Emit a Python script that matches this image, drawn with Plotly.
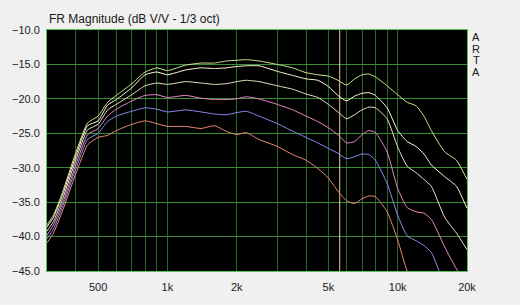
import plotly.graph_objects as go

# ---------------- data ----------------
freq = [300, 320, 350, 400, 450, 500, 550, 600, 700, 800, 900, 1000, 1200, 1400, 1600,
        1800, 2000, 2200, 2500, 3000, 3500, 4000, 4500, 5000, 5500, 6000, 6500, 7000,
        7500, 8000, 9000, 10000, 11000, 12000, 13000, 14000, 16000, 18000, 20000]

curve_green = [-38.3, -36.9, -33.6, -27.8, -23.5, -22.5, -20.5, -19.5, -17.8, -16.1, -15.5, -15.9,
               -15.1, -14.8, -14.8, -14.5, -14.4, -14.3, -14.5, -15.0, -15.5, -16.2, -16.5, -16.7,
               -17.3, -18.0, -17.1, -16.5, -16.4, -16.8, -18.1, -19.4, -20.5, -21.0, -22.5, -24.6,
               -27.7, -28.9, -31.7]
curve_white = [-38.6, -37.2, -34.0, -28.3, -23.9, -23.2, -20.9, -20.1, -18.4, -16.5, -16.1, -16.5,
               -15.8, -15.5, -15.6, -15.5, -15.3, -15.2, -15.2, -16.0, -16.6, -17.1, -17.3, -18.2,
               -19.5, -20.3, -19.6, -19.2, -19.1, -19.5, -21.3, -24.6, -26.2, -26.9, -28.0, -29.6,
               -31.3, -32.7, -35.9]
curve_beige = [-39.2, -37.8, -34.6, -28.9, -24.5, -23.7, -21.6, -20.8, -19.4, -18.1, -17.7, -17.9,
               -17.5, -17.7, -17.9, -17.8, -17.5, -17.3, -17.5, -18.1, -18.6, -19.3, -19.8, -20.8,
               -21.9, -22.9, -22.3, -21.6, -21.2, -21.3, -22.9, -27.0, -29.8, -30.7, -31.7, -32.7,
               -37.2, -39.5, -41.9]
curve_pink = [-39.8, -38.3, -35.2, -29.6, -25.2, -24.3, -22.5, -21.5, -20.3, -19.5, -19.4, -19.8,
              -19.5, -19.9, -20.1, -20.1, -20.0, -19.7, -20.0, -20.8, -21.6, -22.5, -23.3, -24.2,
              -25.2, -26.4, -26.2, -25.2, -24.6, -24.9, -27.7, -33.0, -35.8, -36.4, -36.6, -37.5,
              -41.5, -44.7, -46.9]
curve_blue = [-40.3, -38.9, -35.7, -30.2, -25.9, -25.0, -23.3, -22.5, -21.8, -21.3, -21.5, -21.9,
              -21.6, -21.9, -22.2, -22.3, -22.0, -21.8, -22.5, -23.6, -24.7, -25.6, -26.4, -27.2,
              -27.9, -28.7, -28.4, -28.0, -28.1, -28.9, -32.3, -36.9, -39.9, -40.6, -41.3, -42.3,
              -46.8, -48.3, -49.7]
curve_salmon = [-40.9, -39.5, -36.3, -30.9, -26.7, -25.6, -25.3, -24.6, -23.7, -23.2, -23.6, -24.0,
                -24.0, -24.3, -23.9, -24.7, -25.2, -24.9, -25.9, -26.9, -28.1, -28.9, -30.1, -31.5,
                -33.4, -34.8, -35.2, -34.5, -34.1, -34.2, -36.4, -40.5, -45.0, -46.9, -48.3, -49.7,
                -51.1, -52.5, -53.9]

marker_freq = 5600

x_grid_vals = [400, 500, 600, 700, 800, 900, 1000, 2000, 3000, 4000, 5000, 6000, 7000,
               8000, 9000, 10000, 20000]
x_grid_text = ["", "500", "", "", "", "", "1k", "2k", "", "", "5k", "", "", "", "", "10k", "20k"]
y_ticks = [-45, -40, -35, -30, -25, -20, -15, -10]

title_text = "FR Magnitude (dB V/V - 1/3 oct)"
side_letters = ["A", "R", "T", "A"]

# ---------------- figure ----------------
series = [
    (curve_salmon, "#f08a78"),
    (curve_blue, "#8a8cf4"),
    (curve_pink, "#f088c8"),
    (curve_beige, "#ece4c4"),
    (curve_white, "#ffffd8"),
    (curve_green, "#d4e490"),
]

fig = go.Figure()

fig.add_trace(go.Scatter(x=[marker_freq, marker_freq], y=[y_ticks[0], y_ticks[-1]],
                         mode="lines", line=dict(color="#d8d090", width=1),
                         hoverinfo="skip", showlegend=False))

for vals, col in series:
    fig.add_trace(go.Scatter(x=freq, y=vals, mode="lines",
                             line=dict(color=col, width=1, shape="spline", smoothing=0.5),
                             showlegend=False))

W, H = 520, 305
L, R, T, B = 41, 53, 30, 28
plot_h = H - T - B

fig.update_layout(
    width=W, height=H,
    margin=dict(l=L, r=R, t=T, b=B, pad=0),
    paper_bgcolor="#f0f0f0",
    plot_bgcolor="#000000",
    font=dict(family="Liberation Sans, Arial, sans-serif", size=11, color="#222222"),
    showlegend=False,
    xaxis=dict(
        type="log",
        range=[2.4771, 4.3010],
        tickmode="array", tickvals=x_grid_vals, ticktext=x_grid_text,
        showgrid=True, gridcolor="#2a682a", gridwidth=1,
        showline=True, linecolor="#5cc05c", linewidth=1, mirror=True,
        ticks="", zeroline=False, ticklabelstandoff=6,
        tickfont=dict(size=11, color="#222222"),
    ),
    yaxis=dict(
        range=[-45, -10],
        tickmode="array", tickvals=y_ticks,
        tickformat=".1f",
        showgrid=True, gridcolor="#3a8a3a", gridwidth=1,
        showline=True, linecolor="#5cc05c", linewidth=1, mirror=True,
        ticks="", zeroline=False, ticklabelstandoff=4,
        tickfont=dict(size=11, color="#222222"),
    ),
)

# title
fig.add_annotation(text=title_text, xref="paper", yref="paper", x=0, y=(H - B - 19) / plot_h,
                   xanchor="left", yanchor="middle", showarrow=False,
                   font=dict(size=12, color="#1a1a1a"))

# vertical "ARTA" letters
for i, ch in enumerate(side_letters):
    yc = 37 + 12 * i
    fig.add_annotation(text=ch, xref="paper", yref="paper", x=1, y=(H - B - yc) / plot_h,
                       xanchor="center", yanchor="middle", xshift=9, showarrow=False,
                       font=dict(size=11, color="#1a1a1a"))

fig.write_html("out.html")
